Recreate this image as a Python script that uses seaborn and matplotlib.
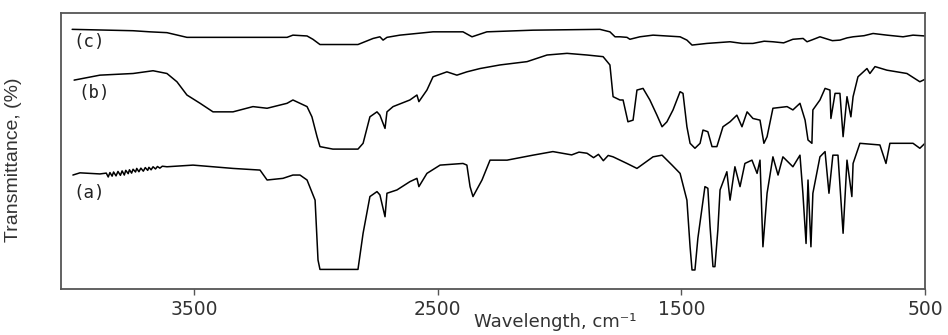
import matplotlib
matplotlib.use("Agg")
import matplotlib.pyplot as plt
import numpy as np
import pandas as pd
import seaborn as sns

# wavenumber (cm-1) and transmittance, top trace first
wn_c = [4000, 3750, 3681, 3611, 3529, 3393, 3118, 3094, 3036, 3012, 2983, 2827, 2765, 2737,
        2724, 2708, 2655, 2519, 2396, 2359, 2298, 2109, 1834, 1793, 1772, 1752, 1723, 1711,
        1670, 1616, 1505, 1477, 1456, 1395, 1300, 1250, 1206, 1160, 1124, 1080, 1042, 1000,
        984, 960, 931, 880, 849, 820, 795, 750, 713, 656, 590, 549, 500]
t_c = [94.1, 93.6, 93.2, 92.9, 91.2, 91.2, 91.2, 92.0, 91.7, 90.5, 88.6, 88.6, 90.8, 91.4,
       90.2, 91.2, 92.0, 93.2, 93.2, 91.4, 93.2, 93.8, 94.1, 93.2, 91.4, 91.4, 91.2, 90.5,
       91.4, 92.0, 91.4, 90.2, 88.4, 89.0, 89.6, 89.0, 89.0, 89.8, 89.6, 89.2, 90.5, 90.8,
       89.6, 90.4, 91.4, 90.0, 90.2, 91.0, 91.4, 91.8, 92.6, 92.0, 91.4, 92.0, 91.7]

wn_b = [3992, 3886, 3750, 3668, 3611, 3570, 3529, 3475, 3422, 3340, 3258, 3200, 3118, 3094,
        3036, 3016, 2995, 2983, 2930, 2827, 2806, 2778, 2749, 2737, 2716, 2708, 2683, 2614,
        2585, 2577, 2544, 2519, 2462, 2421, 2380, 2326, 2244, 2133, 2051, 1969, 1887, 1821,
        1793, 1780, 1752, 1739, 1719, 1698, 1682, 1657, 1629, 1600, 1579, 1559, 1534, 1505,
        1493, 1477, 1464, 1444, 1423, 1411, 1391, 1374, 1354, 1329, 1300, 1272, 1251, 1230,
        1206, 1177, 1161, 1148, 1124, 1066, 1042, 1013, 992, 980, 964, 960, 931, 910, 890,
        886, 869, 849, 836, 820, 804, 795, 775, 738, 726, 705, 656, 574, 521, 500]
t_b = [75.7, 77.5, 78.1, 79.1, 78.1, 75.1, 70.3, 67.3, 64.2, 64.2, 66.1, 65.5, 67.3, 68.5,
       66.1, 62.4, 55.2, 51.6, 50.7, 50.7, 52.8, 62.4, 64.2, 63.0, 58.2, 64.2, 66.1, 68.5,
       70.3, 67.9, 72.1, 76.9, 78.7, 77.5, 78.7, 79.9, 81.2, 82.4, 84.8, 85.4, 84.8, 84.2,
       81.2, 69.7, 68.5, 68.5, 60.6, 61.2, 72.1, 72.7, 68.5, 63.0, 58.8, 60.6, 64.9, 71.5,
       70.9, 58.8, 52.8, 51.0, 52.8, 57.6, 57.0, 51.6, 51.6, 58.8, 60.6, 63.0, 58.8, 64.2,
       61.8, 61.2, 52.8, 55.2, 65.5, 66.1, 64.9, 67.3, 61.2, 54.0, 52.8, 64.9, 68.5, 72.7, 72.1,
       61.8, 70.9, 70.9, 55.2, 69.7, 62.4, 69.7, 76.9, 79.9, 78.1, 80.6, 79.3, 78.1, 75.1, 76.0]

wn_a = [3997, 3968, 3886, 3860, 3852, 3845, 3836, 3830, 3820, 3812, 3802, 3795, 3786, 3780,
        3770, 3765, 3756, 3750, 3740, 3735, 3726, 3718, 3708, 3700, 3690, 3685, 3676, 3668,
        3658, 3650, 3640, 3630, 3611, 3504, 3340, 3229, 3200, 3135, 3094, 3065, 3036, 3003,
        2991, 2983, 2827, 2806, 2778, 2749, 2737, 2716, 2708, 2667, 2614, 2585, 2577, 2544,
        2490, 2396, 2380, 2367, 2355, 2318, 2285, 2215, 2109, 2027, 1950, 1920, 1887, 1860,
        1840, 1820, 1800, 1780, 1723, 1682, 1616, 1579, 1538, 1505, 1477, 1464, 1456, 1444,
        1432, 1403, 1391, 1382, 1370, 1362, 1350, 1341, 1313, 1300, 1280, 1259, 1239, 1210,
        1189, 1177, 1165, 1148, 1124, 1103, 1083, 1042, 1013, 1001, 988, 980, 968, 960, 931,
        910, 894, 878, 857, 836, 820, 800, 795, 767, 685, 660, 644, 549, 521, 500]
t_a = [41.3, 42.1, 41.7, 42.0, 40.6, 42.2, 40.9, 42.4, 41.0, 42.6, 41.2, 42.8, 41.3, 43.0,
       41.8, 43.2, 42.0, 43.4, 42.4, 43.7, 42.5, 43.8, 42.7, 44.0, 43.0, 44.1, 43.2, 44.3,
       43.5, 44.4, 43.8, 44.5, 44.3, 44.9, 43.7, 43.1, 39.5, 40.1, 41.3, 41.3, 39.5, 32.2,
       10.5, 7.1, 7.1, 20.2, 33.5, 35.3, 34.1, 26.2, 34.7, 35.9, 38.9, 40.1, 37.1, 41.9,
       44.9, 45.5, 44.9, 37.1, 33.5, 39.5, 46.7, 46.7, 48.5, 49.8, 48.6, 49.6, 49.2, 47.6,
       48.8, 46.5, 48.4, 47.9, 45.5, 43.7, 47.9, 48.5, 44.9, 41.9, 32.2, 15.3, 6.9, 6.9,
       18.4, 37.1, 36.5, 22.6, 8.1, 8.1, 21.4, 35.9, 42.5, 32.2, 44.3, 37.1, 45.5, 46.7,
       41.9, 46.7, 15.3, 34.7, 47.9, 41.3, 47.9, 44.3, 48.5, 34.7, 16.5, 39.5, 15.3, 34.7, 47.9,
       49.8, 34.7, 48.5, 48.5, 20.2, 46.7, 33.5, 45.5, 52.8, 52.2, 45.5, 52.8, 52.8, 51.0, 52.8]

samples = ['(c)', '(b)', '(a)']
label_wn = [3997, 3975, 3997]
label_t = [89.5, 71.0, 34.8]
tick_wn = [3500, 2500, 1500, 500]

df = pd.concat([
    pd.DataFrame({'wn': wn_c, 't': t_c, 'sample': '(c)'}),
    pd.DataFrame({'wn': wn_b, 't': t_b, 'sample': '(b)'}),
    pd.DataFrame({'wn': wn_a, 't': t_a, 'sample': '(a)'}),
], ignore_index=True)

sns.set_style("white")
plt.rcParams['font.family'] = ['DejaVu Sans']

fig = plt.figure(figsize=(9.48, 3.35), dpi=100)
ax = fig.add_axes([0.0643, 0.1373, 0.9114, 0.8237])

sns.lineplot(data=df, x='wn', y='t', hue='sample', units='sample', estimator=None, sort=False,
             palette={s: 'black' for s in samples}, linewidth=1.1, legend=False, ax=ax)

for s, x, y in zip(samples, label_wn, label_t):
    ax.text(x, y, s, ha='left', va='center', fontsize=12.5, color='#222222',
            family='DejaVu Sans Mono')

ax.set_xlim(4046, 500)
ax.set_ylim(0, 100)
ax.set_xticks(tick_wn)
ax.set_xticklabels([str(v) for v in tick_wn], fontsize=13.5, color='#333333')
ax.set_yticks([])
ax.tick_params(axis='x', direction='out', length=4, width=1, color='#555555', pad=4,
               bottom=True)
for sp in ax.spines.values():
    sp.set_color('#555555')
    sp.set_linewidth(1.3)

ax.set_xlabel('Wavelength, cm⁻¹', fontsize=13, color='#333333')
ax.xaxis.set_label_coords(0.572, -0.088)
ax.set_ylabel('Transmittance, (%)', fontsize=14, color='#333333', family='Liberation Sans')
ax.yaxis.set_label_coords(-0.045, 0.47)

fig.savefig('out.png', dpi=100)
